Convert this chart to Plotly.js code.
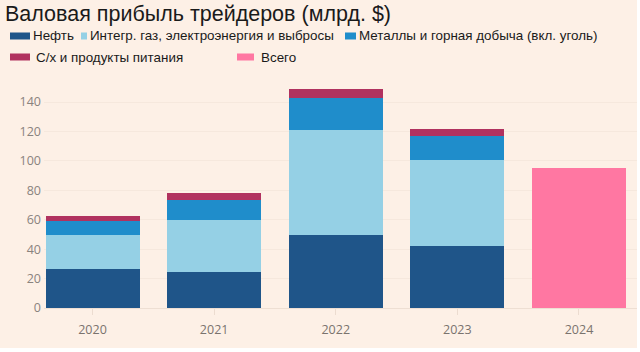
<!DOCTYPE html>
<html>
<head>
<meta charset="utf-8">
<script src="https://cdn.plot.ly/plotly-3.0.1.min.js"></script>
<style>
html,body{margin:0;padding:0;background:#ffffff;}
#chart{width:637px;height:348px;}
</style>
</head>
<body>
<div id="chart"></div>
<script>
// Data (billions $)
const years = ["2020", "2021", "2022", "2023", "2024"];
const oil = [26.5, 24.5, 49.8, 41.9, null];
const gasPower = [22.9, 35.3, 71.4, 58.4, null];
const metals = [9.9, 13.8, 21.6, 16.4, null];
const agri = [3.2, 4.3, 6.1, 5.2, null];
const total = [null, null, null, null, 95.2];

const seriesNames = ["Нефть", "Интегр. газ, электроэнергия и выбросы", "Металлы и горная добыча (вкл. уголь)", "С/х и продукты питания", "Всего"];
const colors = ["#1f5589", "#95d0e5", "#1f8dcb", "#b1325f", "#ff77a2"];
const titleText = "Валовая прибыль трейдеров (млрд. $)";

const W = 637, H = 348;
const M = {l: 44, r: 0, t: 87, b: 40};
const pw = W - M.l - M.r, ph = H - M.t - M.b;
const px = x => (x - M.l) / pw;
const py = y => (H - M.b - y) / ph;

const seriesData = [oil, gasPower, metals, agri, total];
const traces = seriesData.map((d, i) => ({
  type: "bar",
  x: years,
  y: d,
  name: seriesNames[i],
  marker: {color: colors[i], line: {width: 0}},
  showlegend: false,
  hoverinfo: "x+y+name"
}));

// manual legend layout (pixel positions)
const legendItems = [
  {i: 0, sx0: 10, sx1: 30, tx: 31, y: 36},
  {i: 1, sx0: 81, sx1: 87, tx: 88, y: 36},
  {i: 2, sx0: 345, sx1: 356, tx: 357, y: 36},
  {i: 3, sx0: 10, sx1: 30, tx: 34, y: 57},
  {i: 4, sx0: 237, sx1: 254, tx: 259, y: 57}
];
const shapes = legendItems.map(it => ({
  type: "rect", xref: "paper", yref: "paper",
  x0: px(it.sx0), x1: px(it.sx1), y0: py(it.y + 3.5), y1: py(it.y - 3.5),
  fillcolor: colors[it.i], line: {width: 0}
}));
const annotations = legendItems.map(it => ({
  xref: "paper", yref: "paper", x: px(it.tx), y: py(it.y),
  xanchor: "left", yanchor: "middle", showarrow: false,
  text: seriesNames[it.i],
  font: {family: "Liberation Sans, Arial, sans-serif", size: 13.4, color: "#1a1a1a"}
}));

const layout = {
  width: W, height: H,
  margin: M,
  paper_bgcolor: "#fdf0e6",
  plot_bgcolor: "#fdf0e6",
  barmode: "stack",
  bargap: 0.227,
  title: {
    text: titleText,
    xref: "container", yref: "container",
    x: 5 / W, xanchor: "left",
    y: 1 - 13 / H, yanchor: "middle",
    font: {family: "Liberation Sans, Arial, sans-serif", size: 21.5, color: "#1a1a1a"}
  },
  xaxis: {
    type: "category",
    range: [-0.399, 4.477],
    showgrid: false,
    zeroline: false,
    showline: false,
    ticks: "outside", ticklen: 6, tickcolor: "#ecdcd0", tickwidth: 1,
    tickfont: {family: "Open Sans, sans-serif", size: 12.5, color: "#7a736e"},
    ticklabelstandoff: 4,
    fixedrange: true
  },
  yaxis: {
    range: [0, 150.2],
    tickvals: [0, 20, 40, 60, 80, 100, 120, 140],
    showgrid: true, gridcolor: "#f6e8dd", gridwidth: 1,
    zeroline: true, zerolinecolor: "#eedfd3",
    showline: false,
    ticks: "",
    tickfont: {family: "Open Sans, sans-serif", size: 12.5, color: "#8a837e"},
    ticklabelstandoff: 2,
    fixedrange: true
  },
  shapes: shapes,
  annotations: annotations,
  showlegend: false
};

Plotly.newPlot("chart", traces, layout, {displayModeBar: false, staticPlot: true});
</script>
</body>
</html>
